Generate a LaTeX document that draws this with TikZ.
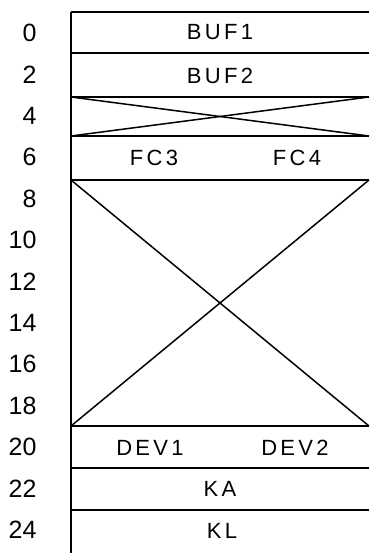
\documentclass[tikz,border=0pt]{standalone}
\usepackage{fontspec}
\setmainfont{Liberation Sans}
\newfontfamily\spaced[LetterSpace=15]{Liberation Sans}
\begin{document}
\begin{tikzpicture}[x=1pt,y=-1pt,
  rule/.style={line width=1.8pt},
  cross/.style={line width=1.5pt},
  num/.style={font=\fontsize{25}{25}\selectfont, anchor=east},
  lab/.style={font=\spaced\fontsize{22}{22}\selectfont, anchor=center}]
\useasboundingbox (0,0) rectangle (369,553);
% left border
\draw[rule] (71,12) -- (71,553);
% horizontal rules
\foreach \y in {12,53,97,136,180,426,468,510}
  \draw[rule] (71,\y) -- (369,\y);
% small cross
\draw[cross] (71,97) -- (369,136);
\draw[cross] (71,136) -- (369,97);
% big cross
\draw[cross] (71,180) -- (369,426);
\draw[cross] (71,426) -- (369,180);
% row numbers
\foreach \n [count=\i from 0] in {0,2,4,6,8,10,12,14,16,18,20,22,24}
  \node[num] (n\n) at (40,{33+\i*41.4}) {\n};
% labels
\node[lab] (buf1) at (220,32) {BUF1};
\node[lab] (buf2) at (220,76) {BUF2};
\node[lab] (fc3) at (154,158) {FC3};
\node[lab] (fc4) at (297,158) {FC4};
\node[lab] (dev1) at (150,448) {DEV1};
\node[lab] (dev2) at (295,448) {DEV2};
\node[lab] (ka) at (220,489) {KA};
\node[lab] (kl) at (222,531) {KL};
\end{tikzpicture}
\end{document}
